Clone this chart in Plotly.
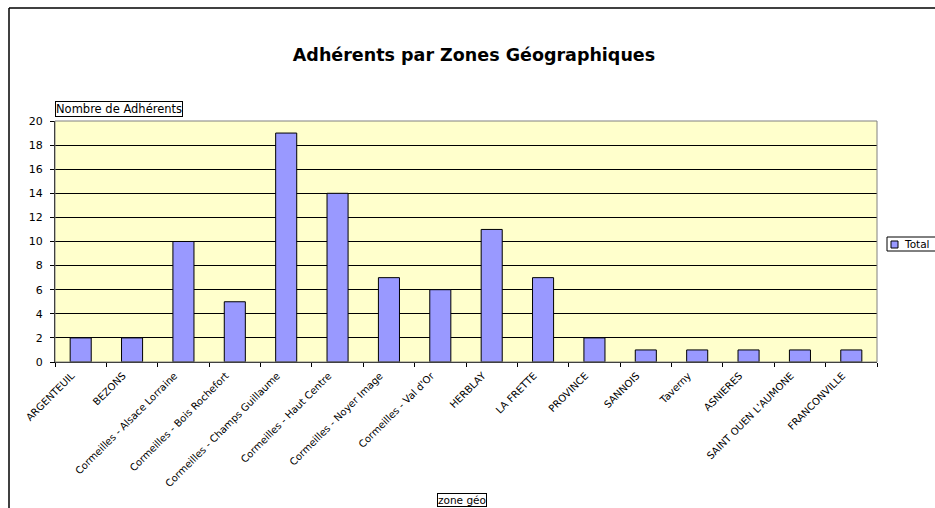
import plotly.graph_objects as go

zones = ['ARGENTEUIL', 'BEZONS', 'Cormeilles - Alsace Lorraine', 'Cormeilles - Bois Rochefort',
         'Cormeilles - Champs Guillaume', 'Cormeilles - Haut Centre', 'Cormeilles - Noyer Image',
         "Cormeilles - Val d'Or", 'HERBLAY', 'LA FRETTE', 'PROVINCE', 'SANNOIS', 'Taverny',
         'ASNIERES', "SAINT OUEN L'AUMONE", 'FRANCONVILLE']
total = [2, 2, 10, 5, 19, 14, 7, 6, 11, 7, 2, 1, 1, 1, 1, 1]
y_ticks = list(range(0, 21, 2))

W, H = 935, 508
L, R, T, B = 55, 58, 121, 146
pw, ph = W - L - R, H - T - B


def px_x(x):
    return (x - L) / pw


def px_y(y):
    return (H - B - y) / ph


fnt = 'DejaVu Sans, Arial, sans-serif'
bar_color = '#9999FF'

fig = go.Figure(go.Bar(
    x=zones, y=total, name='Total', showlegend=False,
    marker=dict(color=bar_color, line=dict(color='black', width=1)),
))

fig.update_layout(
    width=W, height=H,
    margin=dict(l=L, r=R, t=T, b=B),
    paper_bgcolor='white', plot_bgcolor='#FFFFCC',
    font=dict(family=fnt, size=10, color='black'),
    bargap=0.59,
    title=dict(text='<b>Adhérents par Zones Géographiques</b>', x=px_x(474), xanchor='center',
               xref='paper', y=1 - 55 / H, yanchor='middle', font=dict(size=17.5, family=fnt)),
    xaxis=dict(type='category', tickangle=-45, tickson='boundaries', ticks='outside',
               ticklen=4, tickcolor='black', showline=True, linecolor='black',
               tickfont=dict(size=10), showgrid=False, ticklabelshift=-9,
               ticklabelstandoff=3),
    yaxis=dict(range=[0, 20], tickvals=y_ticks, ticks='outside', ticklen=4,
               tickcolor='black', showline=True, linecolor='black', showgrid=True,
               gridcolor='black', gridwidth=1, zeroline=False, tickfont=dict(size=11),
               ticklabelstandoff=5),
    annotations=[
        dict(text='Nombre de Adhérents', xref='paper', yref='paper', x=px_x(55), y=px_y(109.5),
             xanchor='left', yanchor='middle', showarrow=False, bordercolor='black',
             borderwidth=1, borderpad=0, font=dict(size=11.5)),
        dict(text='zone géo', xref='paper', yref='paper', x=px_x(462), y=px_y(499.5),
             xanchor='center', yanchor='middle', showarrow=False, bordercolor='black',
             borderwidth=1, borderpad=0, font=dict(size=10.5)),
        dict(text='Total', xref='paper', yref='paper', x=px_x(902), y=px_y(244),
             xanchor='left', yanchor='middle', showarrow=False, font=dict(size=10.5)),
    ],
    shapes=[
        # plot area border
        dict(type='rect', xref='paper', yref='paper', x0=0, x1=1, y0=0, y1=1,
             line=dict(color='#808080', width=1)),
        # chart frame
        dict(type='line', xref='paper', yref='paper', x0=px_x(9), x1=px_x(9),
             y0=px_y(8), y1=px_y(512), line=dict(color='black', width=1.5)),
        dict(type='line', xref='paper', yref='paper', x0=px_x(9), x1=px_x(940),
             y0=px_y(8), y1=px_y(8), line=dict(color='black', width=1.5)),
        # legend box and key
        dict(type='rect', xref='paper', yref='paper', x0=px_x(887), x1=px_x(945),
             y0=px_y(251), y1=px_y(237), line=dict(color='black', width=1), fillcolor='white',
             layer='below'),
        dict(type='rect', xref='paper', yref='paper', x0=px_x(891), x1=px_x(898),
             y0=px_y(248), y1=px_y(241), line=dict(color='black', width=1), fillcolor=bar_color),
    ],
)

fig.write_html('out.html', config={'displayModeBar': False},
               post_script="document.body.style.margin='0';")
